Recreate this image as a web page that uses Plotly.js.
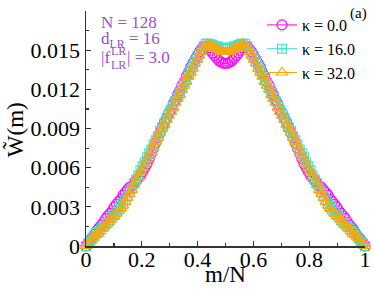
<!DOCTYPE html>
<html>
<head>
<meta charset="utf-8">
<script src="https://cdn.plot.ly/plotly-3.0.1.min.js"></script>
<style>html,body{margin:0;padding:0;background:#fff;}#chart{width:374px;height:289px;}</style>
</head>
<body>
<div id="chart"></div>
<script>
const N = 128;
const seriesNames = ["κ = 0.0", "κ = 16.0", "κ = 32.0"];
const tickValsX = [0, 0.2, 0.4, 0.6, 0.8, 1];
const tickTextX = ["0", "0.2", "0.4", "0.6", "0.8", "1"];
const tickValsY = [0, 0.003, 0.006, 0.009, 0.012, 0.015, 0.018];
const tickTextY = ["0", "0.003", "0.006", "0.009", "0.012", "0.015", "0.018"];
const xTitle = "m/N";
const yTitle = "W\u0303(m)";

// m = 0 .. 128
const wKappa0 = [
0.0000,0.0002,0.0005,0.0007,0.0009,0.0012,0.0014,0.0016,0.0018,0.0021,
0.0023,0.0025,0.0027,0.0030,0.0032,0.0034,0.0036,0.0039,0.0041,0.0043,
0.0045,0.0046,0.0048,0.0050,0.0052,0.0054,0.0057,0.0060,0.0063,0.0067,
0.0071,0.0075,0.0079,0.0083,0.0087,0.0091,0.0095,0.0098,0.0102,0.0105,
0.0109,0.0112,0.0116,0.0119,0.0123,0.0126,0.0130,0.0133,0.0137,0.0140,
0.0143,0.0146,0.0149,0.0151,0.0153,0.0153,0.0152,0.0150,0.0148,0.0146,
0.0144,0.0142,0.0141,0.0140,0.0140,0.0140,0.0141,0.0142,0.0144,0.0146,
0.0148,0.0150,0.0152,0.0153,0.0153,0.0151,0.0149,0.0146,0.0143,0.0140,
0.0137,0.0133,0.0130,0.0126,0.0123,0.0119,0.0116,0.0112,0.0109,0.0105,
0.0102,0.0098,0.0095,0.0091,0.0087,0.0083,0.0079,0.0075,0.0071,0.0067,
0.0063,0.0060,0.0057,0.0054,0.0052,0.0050,0.0048,0.0046,0.0045,0.0043,
0.0041,0.0039,0.0036,0.0034,0.0032,0.0030,0.0027,0.0025,0.0023,0.0021,
0.0018,0.0016,0.0014,0.0012,0.0009,0.0007,0.0005,0.0002,0.0000
];
const wKappa16 = [
0.0000,0.0002,0.0004,0.0006,0.0008,0.0010,0.0011,0.0013,0.0015,0.0017,
0.0018,0.0020,0.0022,0.0024,0.0026,0.0028,0.0030,0.0032,0.0035,0.0038,
0.0041,0.0044,0.0048,0.0051,0.0054,0.0058,0.0061,0.0064,0.0068,0.0071,
0.0074,0.0078,0.0081,0.0084,0.0088,0.0091,0.0094,0.0098,0.0101,0.0104,
0.0107,0.0111,0.0114,0.0117,0.0121,0.0124,0.0127,0.0131,0.0134,0.0137,
0.0141,0.0144,0.0147,0.0150,0.0153,0.0155,0.0155,0.0155,0.0154,0.0153,
0.0153,0.0152,0.0152,0.0151,0.0151,0.0151,0.0152,0.0152,0.0153,0.0153,
0.0154,0.0155,0.0155,0.0155,0.0153,0.0150,0.0147,0.0144,0.0141,0.0137,
0.0134,0.0131,0.0127,0.0124,0.0121,0.0117,0.0114,0.0111,0.0107,0.0104,
0.0101,0.0098,0.0094,0.0091,0.0088,0.0084,0.0081,0.0078,0.0074,0.0071,
0.0068,0.0064,0.0061,0.0058,0.0054,0.0051,0.0048,0.0044,0.0041,0.0038,
0.0035,0.0032,0.0030,0.0028,0.0026,0.0024,0.0022,0.0020,0.0018,0.0017,
0.0015,0.0013,0.0011,0.0010,0.0008,0.0006,0.0004,0.0002,0.0000
];
const wKappa32 = [
0.0000,0.0002,0.0004,0.0006,0.0008,0.0009,0.0011,0.0013,0.0014,0.0016,
0.0018,0.0020,0.0022,0.0023,0.0025,0.0027,0.0029,0.0031,0.0034,0.0037,
0.0040,0.0043,0.0047,0.0050,0.0053,0.0057,0.0060,0.0063,0.0067,0.0070,
0.0073,0.0077,0.0080,0.0083,0.0087,0.0090,0.0093,0.0097,0.0100,0.0103,
0.0106,0.0110,0.0113,0.0116,0.0120,0.0123,0.0126,0.0130,0.0133,0.0136,
0.0140,0.0143,0.0146,0.0149,0.0152,0.0154,0.0155,0.0154,0.0153,0.0152,
0.0151,0.0150,0.0149,0.0149,0.0149,0.0149,0.0149,0.0150,0.0151,0.0152,
0.0153,0.0154,0.0155,0.0154,0.0152,0.0149,0.0146,0.0143,0.0140,0.0136,
0.0133,0.0130,0.0126,0.0123,0.0120,0.0116,0.0113,0.0110,0.0106,0.0103,
0.0100,0.0097,0.0093,0.0090,0.0087,0.0083,0.0080,0.0077,0.0073,0.0070,
0.0067,0.0063,0.0060,0.0057,0.0053,0.0050,0.0047,0.0043,0.0040,0.0037,
0.0034,0.0031,0.0029,0.0027,0.0025,0.0023,0.0022,0.0020,0.0018,0.0016,
0.0014,0.0013,0.0011,0.0009,0.0008,0.0006,0.0004,0.0002,0.0000
];
const mOverN = wKappa0.map((_, m) => m / N);

const serif = "\"Liberation Serif\", \"Times New Roman\", Times, serif";
const purple = "#9650d2";

function tr(y, name, color, symbol, size) {
  return {
    x: mOverN, y: y, name: name, type: "scatter", mode: "lines+markers",
    cliponaxis: false,
    line: {color: color, width: 1},
    marker: {symbol: symbol, size: size, color: color, line: {color: color, width: 1.1}}
  };
}

const data = [
  tr(wKappa0, seriesNames[0], "#ff00ff", "circle-open", 10),
  tr(wKappa16, seriesNames[1], "#40e0d0", "square-cross-open", 9),
  tr(wKappa32, seriesNames[2], "#ffa500", "triangle-up-open", 10)
];

function px2x(px) { return (px - 86) / 279; }
function px2y(py) { return (246.5 - py) / 236.5; }

const layout = {
  width: 374, height: 289,
  margin: {l: 86, r: 9, t: 10, b: 42.5},
  paper_bgcolor: "#fff", plot_bgcolor: "#fff",
  font: {family: serif, color: "#000"},
  showlegend: true,
  legend: {
    x: px2x(262), xanchor: "left", y: px2y(8), yanchor: "top",
    font: {family: serif, size: 16, color: "#000"},
    bgcolor: "rgba(0,0,0,0)", tracegroupgap: 0, itemwidth: 30
  },
  xaxis: {
    range: [0, 1], tickvals: tickValsX, ticktext: tickTextX,
    ticks: "inside", ticklen: 5, tickwidth: 1.2, tickcolor: "#333",
    minor: {dtick: 0.1, tick0: 0, ticks: "inside", ticklen: 3, tickcolor: "#333"},
    showline: true, linecolor: "#333", linewidth: 1.5, mirror: false,
    showgrid: false, zeroline: false, automargin: false,
    ticklabelstandoff: -7,
    tickfont: {family: serif, size: 22, color: "#000"}
  },
  yaxis: {
    range: [0, 0.01801], tickvals: tickValsY, ticktext: tickTextY,
    ticks: "inside", ticklen: 5, tickwidth: 1.2, tickcolor: "#333",
    minor: {dtick: 0.0015, tick0: 0, ticks: "inside", ticklen: 3, tickcolor: "#333"},
    showline: true, linecolor: "#333", linewidth: 1.5, mirror: false,
    showgrid: false, zeroline: false, automargin: false,
    tickfont: {family: serif, size: 22, color: "#000"}
  },
  annotations: [
    {xref: "paper", yref: "paper", x: 0.5, y: px2y(289), xanchor: "center", yanchor: "bottom", showarrow: false,
     borderpad: 0, text: xTitle, font: {family: serif, size: 23, color: "#000"}},
    {xref: "paper", yref: "paper", x: px2x(15), y: px2y(130), xanchor: "center", yanchor: "middle", showarrow: false,
     textangle: -90, text: yTitle, font: {family: serif, size: 23, color: "#000"}},
    {xref: "paper", yref: "paper", x: px2x(100), y: px2y(22), xanchor: "left", yanchor: "middle", showarrow: false,
     borderpad: 0, text: "N = 128", font: {family: serif, size: 17, color: purple}},
    {xref: "paper", yref: "paper", x: px2x(100), y: px2y(39), xanchor: "left", yanchor: "middle", showarrow: false,
     borderpad: 0, text: "d<sub>LR</sub> = 16", font: {family: serif, size: 17, color: purple}},
    {xref: "paper", yref: "paper", x: px2x(100), y: px2y(57), xanchor: "left", yanchor: "middle", showarrow: false,
     borderpad: 0, text: "|f", font: {family: serif, size: 17, color: purple}},
    {xref: "paper", yref: "paper", x: px2x(110), y: px2y(50), xanchor: "left", yanchor: "middle", showarrow: false,
     borderpad: 0, text: "LR", font: {family: serif, size: 12, color: purple}},
    {xref: "paper", yref: "paper", x: px2x(110), y: px2y(64), xanchor: "left", yanchor: "middle", showarrow: false,
     borderpad: 0, text: "LR", font: {family: serif, size: 12, color: purple}},
    {xref: "paper", yref: "paper", x: px2x(126), y: px2y(57), xanchor: "left", yanchor: "middle", showarrow: false,
     borderpad: 0, text: "| = 3.0", font: {family: serif, size: 17, color: purple}},
    {xref: "paper", yref: "paper", x: px2x(369), y: px2y(2), xanchor: "right", yanchor: "top", showarrow: false,
     text: "(a)", font: {family: serif, size: 15, color: "#000"}}
  ]
};

Plotly.newPlot("chart", data, layout, {displayModeBar: false, staticPlot: true});
</script>
</body>
</html>
